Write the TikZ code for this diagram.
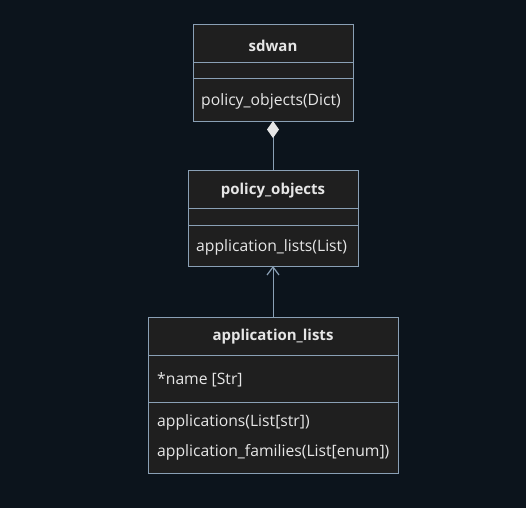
\documentclass[tikz,border=0pt]{standalone}
\usepackage{fontspec}
\setmainfont{Open Sans}
\usetikzlibrary{arrows.meta}
\definecolor{bg}{HTML}{0C141C}
\definecolor{boxfill}{HTML}{1F1F1F}
\definecolor{boxline}{HTML}{8AA0B5}
\definecolor{txt}{HTML}{E6E6E6}
\begin{document}
\begin{tikzpicture}[x=1pt,y=-1pt,
  classbox/.style={draw=boxline,fill=boxfill,line width=1pt},
  divline/.style={draw=boxline,line width=1pt},
  title/.style={text=txt,font=\fontsize{15}{17}\selectfont\bfseries,inner sep=0pt},
  member/.style={text=txt,font=\fontsize{15.7}{18}\selectfont,inner sep=0pt,anchor=west},
  conn/.style={draw=boxline,line width=1pt}]
\fill[bg] (0,0) rectangle (526,508);
\useasboundingbox (0,0) rectangle (526,508);
% sdwan
\draw[classbox] (193,25) rectangle (353,121);
\coordinate (sdwanB) at (273,121);
\draw[divline] (193,63) -- (353,63);
\draw[divline] (193,79) -- (353,79);
\node[title] (t1) at (273,46) {sdwan};
\node[member] (m1) at (201,101) {policy\_objects(Dict)};
% policy_objects
\draw[classbox] (188,170) rectangle (358,266);
\coordinate (poT) at (273,170);
\coordinate (poB) at (273,266);
\draw[divline] (188,208) -- (358,208);
\draw[divline] (188,225) -- (358,225);
\node[title] (t2) at (273,191) {policy\_objects};
\node[member] (m2) at (196,247) {application\_lists(List)};
% application_lists
\draw[classbox] (148,317) rectangle (398,473);
\coordinate (alT) at (273,317);
\draw[divline] (148,355) -- (398,355);
\draw[divline] (148,402) -- (398,402);
\node[title] (t3) at (273,337) {application\_lists};
\node[member] (a1) at (157,380) {*name [Str]};
\node[member] (m3) at (157,422) {applications(List[str])};
\node[member] (m4) at (157,452) {application\_families(List[enum])};
% connectors
\draw[conn,-{Diamond[length=17pt,width=12pt,fill=txt,line width=0pt]}] (poT) -- (sdwanB);
\draw[conn,-{Straight Barb[length=8pt,width=12pt,line width=1.2pt]}] (alT) -- (poB);
\end{tikzpicture}
\end{document}
